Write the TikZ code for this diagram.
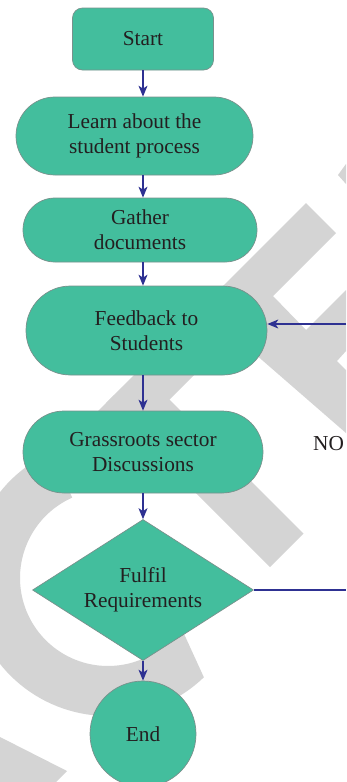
\documentclass[tikz,border=0pt]{standalone}
\usepackage{fontspec}
\setmainfont{Liberation Serif}
\usetikzlibrary{shapes.geometric,arrows.meta}
\definecolor{nodefill}{RGB}{67,190,157}
\definecolor{nodeline}{RGB}{120,145,140}
\definecolor{arrowblue}{RGB}{46,49,146}
\definecolor{txt}{RGB}{35,31,32}
\definecolor{wm}{RGB}{212,212,212}
\begin{document}
\begin{tikzpicture}[x=1pt,y=-1pt,
  box/.style={draw=nodeline, line width=0.7pt, fill=nodefill, text=txt, align=center,
    font=\fontsize{21.3}{25}\selectfont, inner sep=0pt},
  arr/.style={draw=arrowblue, line width=1.2pt, -{Stealth[length=11pt,width=9pt,inset=3pt]}},
  conn/.style={draw=arrowblue, line width=1.2pt},
  lbl/.style={text=txt, font=\fontsize{21.3}{25}\selectfont, inner sep=0pt}
]
\useasboundingbox (0,0) rectangle (346,782);
\fill[white] (0,0) rectangle (346,782);
\clip (0,0) rectangle (346,782);
% watermark
\fill[wm] (306,203) -- (336,233) -- (110,459) -- (80,429) -- cycle;
\fill[wm] (106,403) -- (140,370) -- (303.5,533.5) -- (270,567) -- cycle;
\fill[wm] (235,290) -- (273,296) -- (306,330) -- (346,290) -- (346,351) -- (337,361) -- (346,370) -- (346,433) -- (262,360) -- (235,336) -- cycle;
\fill[wm] (346,164) -- (338,175) -- (346,184) -- cycle;
\fill[wm] plot[domain=46:246, samples=80] ({108+138*cos(\x)},{578+138*sin(\x)})
  -- plot[domain=246:34, samples=80] ({108+88*cos(\x)},{578+88*sin(\x)}) -- cycle;
\fill[wm] (0,737) -- (67,771) -- (56,782) -- (0,782) -- cycle;
% nodes
\node[box, rectangle, rounded corners=10pt, minimum width=141pt, minimum height=62pt] (start) at (143,39) {Start};
\node[box, rectangle, rounded corners=38.9pt, minimum width=237pt, minimum height=78pt] (learn) at (134.5,136) {Learn about the\\student process};
\node[box, rectangle, rounded corners=31.9pt, minimum width=234pt, minimum height=64pt] (gather) at (140,230) {Gather\\documents};
\node[box, rectangle, rounded corners=44.4pt, minimum width=241pt, minimum height=89pt] (feedback) at (146.5,330.5) {Feedback to\\Students};
\node[box, rectangle, rounded corners=40.9pt, minimum width=240pt, minimum height=82pt] (grass) at (143,452) {Grassroots sector\\Discussions};
\node[box, diamond, aspect=1.567, minimum width=221pt, minimum height=141pt] (fulfil) at (143,590) {Fulfil\\Requirements};
\node[box, circle, minimum size=106pt] (end) at (143,734) {End};
\node[lbl, anchor=west] (no) at (313,443.5) {NO};
% connectors
\coordinate (fbin) at (346,324);
\coordinate (noout) at (346,590);
\draw[arr] (start.south) -- (start.south |- learn.north);
\draw[arr] (start.south |- learn.south) -- (start.south |- gather.north);
\draw[arr] (start.south |- gather.south) -- (start.south |- feedback.north);
\draw[arr] (start.south |- feedback.south) -- (start.south |- grass.north);
\draw[arr] (start.south |- grass.south) -- (fulfil.north);
\draw[arr] (fulfil.south) -- (end.north);
\draw[arr] (fbin) -- (fbin -| feedback.east);
\draw[conn] (fulfil.east) -- (noout);
\end{tikzpicture}
\end{document}
